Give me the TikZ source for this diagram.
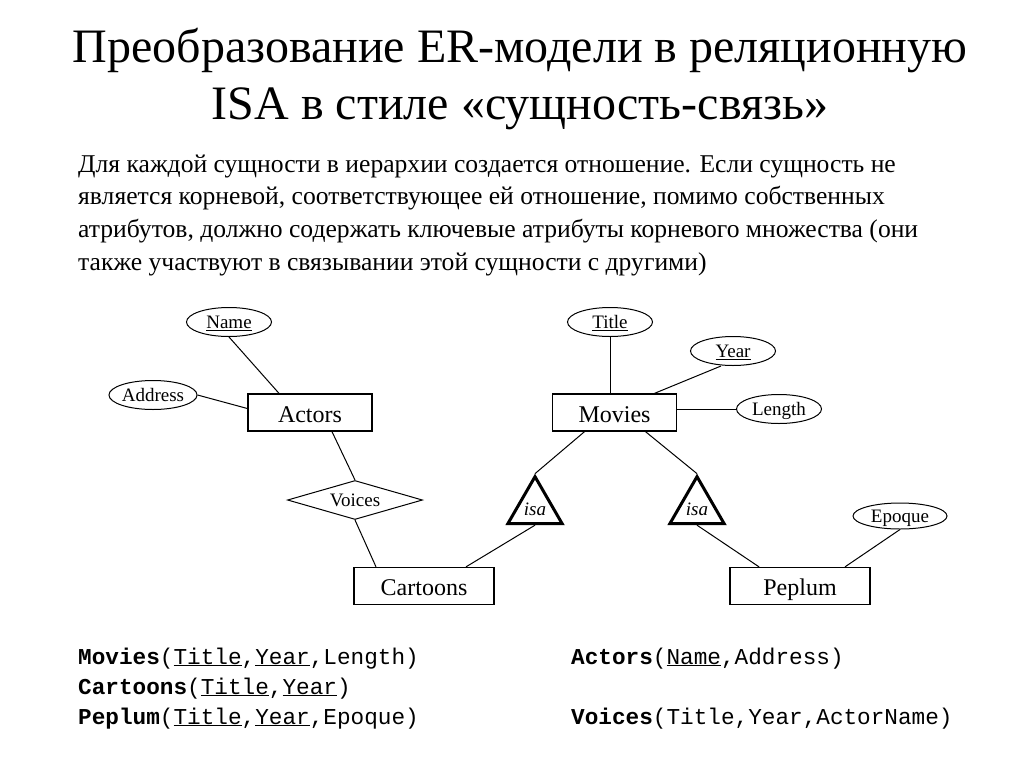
\documentclass[tikz,border=0pt]{standalone}
\usepackage{fontspec}
\setmainfont{Liberation Serif}
\setmonofont{Liberation Mono}
\usetikzlibrary{shapes.geometric}

\newcommand{\fsz}[1]{\fontsize{#1}{#1}\selectfont}

\begin{document}
\begin{tikzpicture}[x=1pt,y=-1pt,
    entity/.style={draw, line width=1.3pt, minimum height=37pt, inner sep=0pt, text height=19.2pt, text depth=0pt, font=\fsz{24}},
    attr/.style={draw, ellipse, line width=1pt, minimum width=85pt, minimum height=29pt, inner sep=0pt, text height=12.6pt, text depth=0pt, font=\fsz{19}},
    rel/.style={draw, diamond, aspect=3.46, line width=1pt, minimum width=135pt, minimum height=39pt, inner sep=0pt, text height=12.6pt, text depth=0pt, font=\fsz{19}},
    isatri/.style={draw, regular polygon, regular polygon sides=3, line width=3pt, minimum size=54pt, inner sep=0pt, text height=14.4pt, text depth=-9.6pt, font=\fsz{19}\itshape},
    link/.style={line width=1pt},
    para/.style={anchor=base west, inner sep=0pt, font=\fsz{25.6}},
    schema/.style={anchor=base west, inner sep=0pt, font=\fsz{22.7}\ttfamily}]
  \useasboundingbox (0,0) rectangle (1024,768);

  % title and text
  \node[anchor=base, font=\fsz{48}] (title1) at (520,63) {Преобразование ER-модели в реляционную};
  \node[anchor=base, font=\fsz{48}] (title2) at (520,119) {ISA в стиле «сущность-связь»};
  \node[para] (line1) at (78,172) {Для каждой сущности в иерархии создается отношение. Если сущность не};
  \node[para] (line2) at (78,204.5) {является корневой, соответствующее ей отношение, помимо собственных};
  \node[para] (line3) at (78,237.5) {атрибутов, должно содержать ключевые атрибуты корневого множества (они};
  \node[para] (line4) at (78,270) {также участвуют в связывании этой сущности с другими)};

  % entities
  \node[entity, minimum width=124pt] (actors) at (310,412.5) {Actors};
  \node[entity, minimum width=124pt] (movies) at (614.5,412.5) {Movies};
  \node[entity, minimum width=140pt] (cartoons) at (424,586) {Cartoons};
  \node[entity, minimum width=140pt] (peplum) at (800,586) {Peplum};

  % attributes
  \node[attr] (name) at (229,322) {\underline{Name}};
  \node[attr] (address) at (153,395) {Address};
  \node[attr] (title) at (610,322) {\underline{Title}};
  \node[attr] (year) at (733,351) {\underline{Year}};
  \node[attr] (length) at (779,409) {Length};
  \node[attr, minimum width=94pt, minimum height=26pt] (epoque) at (900,516) {Epoque};

  % relationship and isa
  \node[rel] (voices) at (355,500) {Voices};
  \node[isatri] (isaL) at (535,508) {isa};
  \node[isatri] (isaR) at (697,508) {isa};

  \draw[link] (name.south) -- ([xshift=-31pt]actors.north);
  \draw[link] (address.east) -- ([yshift=4pt]actors.west);
  \draw[link] ([xshift=22pt]actors.south) -- (voices.north);
  \draw[link] (voices.south) -- ([xshift=-48pt]cartoons.north);
  \draw[link] ([xshift=42pt]cartoons.north) -- (isaL.south);
  \draw[link] (title.south) -- (title.south |- movies.north);
  \draw[link] ([xshift=40pt]movies.north) -- ([xshift=-12pt]year.south);
  \draw[link] (movies.east |- length) -- (length.west);
  \draw[link] ([xshift=-30pt]movies.south) -- (isaL.north);
  \draw[link] ([xshift=31pt]movies.south) -- (isaR.north);
  \draw[link] (isaR.south) -- ([xshift=-41pt]peplum.north);
  \draw[link] (epoque.south) -- ([xshift=45pt]peplum.north);

  % relations
  \node[schema] (rmovies) at (78,664) {\textbf{Movies}(\underline{Title},\underline{Year},Length)};
  \node[schema] (rcartoons) at (78,694) {\textbf{Cartoons}(\underline{Title},\underline{Year})};
  \node[schema] (rpeplum) at (78,724) {\textbf{Peplum}(\underline{Title},\underline{Year},Epoque)};
  \node[schema] (ractors) at (571,664) {\textbf{Actors}(\underline{Name},Address)};
  \node[schema] (rvoices) at (571,724) {\textbf{Voices}(Title,Year,ActorName)};
\end{tikzpicture}
\end{document}
